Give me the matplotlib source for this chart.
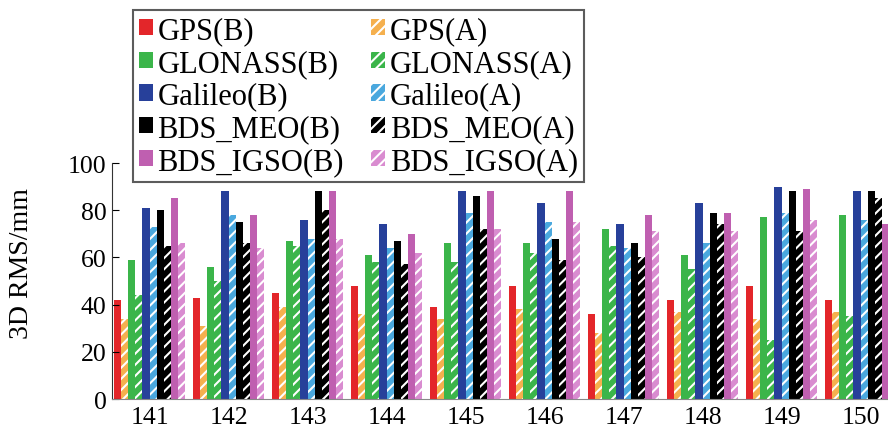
import numpy as np
import matplotlib
matplotlib.use('Agg')
import matplotlib.pyplot as plt

# 数据区
days = ['141', '142', '143', '144', '145', '146', '147', '148', '149', '150']

gps_b = [42, 43, 45, 48, 39, 48, 36, 42, 48, 42]
gps_a = [34, 31, 39, 36, 34, 38, 28, 37, 34, 37]
glo_b = [59, 56, 67, 61, 66, 66, 72, 61, 77, 78]
glo_a = [44, 50, 65, 58, 58, 62, 65, 55, 25, 35]
gal_b = [81, 88, 76, 74, 88, 83, 74, 83, 90, 88]
gal_a = [73, 78, 68, 64, 79, 75, 64, 66, 79, 76]
meo_b = [80, 75, 88, 67, 86, 68, 66, 79, 88, 88]
meo_a = [65, 66, 80, 57, 72, 59, 60, 74, 71, 85]
igso_b = [85, 78, 88, 70, 88, 88, 78, 79, 89, 74]
igso_a = [66, 64, 68, 62, 72, 75, 71, 71, 76, 66]

series = [
    ('GPS(B)', gps_b, '#e3262a', False),
    ('GPS(A)', gps_a, '#f5b04e', True),
    ('GLONASS(B)', glo_b, '#3bb54a', False),
    ('GLONASS(A)', glo_a, '#3bb54a', True),
    ('Galileo(B)', gal_b, '#27409a', False),
    ('Galileo(A)', gal_a, '#4aa8de', True),
    ('BDS_MEO(B)', meo_b, '#000000', False),
    ('BDS_MEO(A)', meo_a, '#000000', True),
    ('BDS_IGSO(B)', igso_b, '#bf5fb0', False),
    ('BDS_IGSO(A)', igso_a, '#d98cd0', True),
]

plt.rcParams['font.family'] = ['Liberation Serif', 'DejaVu Serif']
plt.rcParams['hatch.linewidth'] = 1.5

fig = plt.figure(figsize=(8.88, 4.39), dpi=100)
ax = fig.add_axes([0.1261, 0.0888, 0.8739, 0.5376])

x = np.arange(len(days))
w = 1.0 / 11
handles = []
for i, (name, vals, col, hatched) in enumerate(series):
    pos = x + (i - 4.5) * w
    if hatched:
        b = ax.bar(pos, vals, w, color=col, edgecolor='white', hatch='///',
                   linewidth=0, label=name)
    else:
        b = ax.bar(pos, vals, w, color=col, linewidth=0, label=name)
    handles.append(b)

ax.set_xlim(-0.475, 9.348)
ax.set_ylim(0, 100)
ax.set_xticks(x)
ax.set_xticklabels(days)
ax.set_yticks([0, 20, 40, 60, 80, 100])
ax.tick_params(axis='y', direction='in', length=5, labelsize=18.5, pad=4)
ax.tick_params(axis='x', length=0, labelsize=18.5, pad=5)
ax.spines['top'].set_visible(False)
ax.spines['right'].set_visible(False)
ax.spines['left'].set_color('#333333')
ax.spines['bottom'].set_color('#888888')
ax.set_ylabel('3D RMS/mm', fontsize=20)
ax.yaxis.set_label_coords(-0.1, 0.58)

# 图例：两列，B 在左，A 在右
order = [0, 2, 4, 6, 8, 1, 3, 5, 7, 9]
leg = fig.legend([handles[k] for k in order], [series[k][0] for k in order],
                 ncol=2, loc='upper left', bbox_to_anchor=(133 / 888, 1 - 11 / 439),
                 fontsize=22, frameon=True, fancybox=False, edgecolor='#333333',
                 handlelength=0.45, handleheight=0.45, handletextpad=0.15,
                 labelspacing=0.12, columnspacing=0.9, borderpad=0.2,
                 borderaxespad=0)
leg.get_frame().set_linewidth(1.5)

fig.savefig('out.png', dpi=100)
